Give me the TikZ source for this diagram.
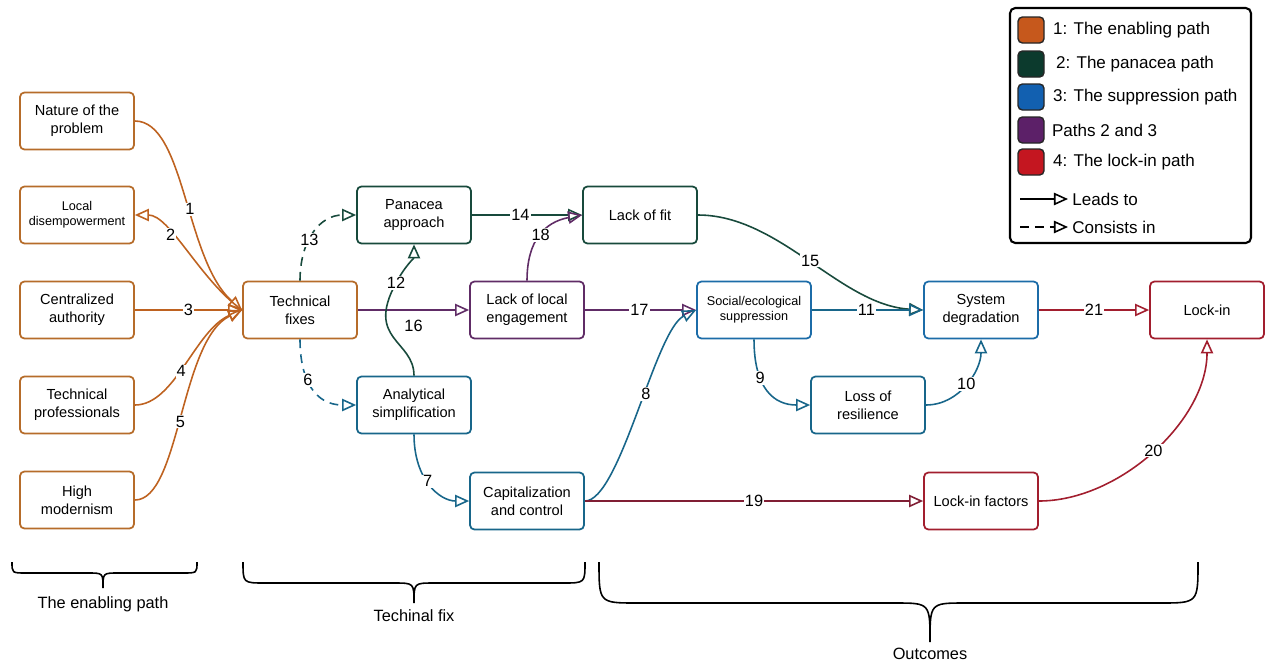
\documentclass[tikz,border=0pt]{standalone}
\usepackage{fontspec}
\setmainfont{Liberation Sans}
\usetikzlibrary{arrows.meta,positioning}

\definecolor{enbox}{RGB}{182,108,42}
\definecolor{enline}{RGB}{190,98,32}
\definecolor{panline}{RGB}{24,74,60}
\definecolor{supline}{RGB}{28,108,168}
\definecolor{tealline}{RGB}{24,102,138}
\definecolor{purline}{RGB}{96,44,102}
\definecolor{lockline}{RGB}{162,30,46}
\definecolor{capline}{RGB}{128,30,52}
\definecolor{swA}{RGB}{198,88,28}
\definecolor{swB}{RGB}{12,58,45}
\definecolor{swC}{RGB}{18,96,176}
\definecolor{swD}{RGB}{92,32,104}
\definecolor{swE}{RGB}{196,22,32}

\begin{document}
\begin{tikzpicture}[x=0.02cm, y=-0.02cm,
  box/.style={draw, rounded corners=2.5pt, line width=1pt, fill=white,
    minimum width=2.28cm, minimum height=1.14cm, align=center, inner sep=1pt,
    font=\fontsize{8.3}{10.2}\selectfont},
  tiny/.style={font=\fontsize{7.2}{8.4}\selectfont},
  num/.style={fill=white, text=black, inner sep=0.6pt, font=\fontsize{9.3}{11}\selectfont},
  leads/.style={line width=0.9pt, -{Triangle[open, length=8pt, width=7pt]}},
  consists/.style={leads, dash pattern=on 5pt off 3.5pt},
  swatch/.style={draw=black!85, line width=0.8pt, rounded corners=2.5pt,
    minimum size=0.52cm, inner sep=0pt},
  legtext/.style={font=\fontsize{9.7}{11}\selectfont, anchor=west, inner sep=0pt},
  bracetext/.style={font=\fontsize{9.3}{11}\selectfont}]
\useasboundingbox (0,0) rectangle (1266,663);

% boxes
\node[box, draw=enbox] (nature) at (77,121) {Nature of the\\problem};
\node[box, draw=enbox, tiny] (local) at (77,215) {Local\\disempowerment};
\node[box, draw=enbox] (central) at (77,310) {Centralized\\authority};
\node[box, draw=enbox] (profs) at (77,405) {Technical\\professionals};
\node[box, draw=enbox] (modern) at (77,500) {High\\modernism};
\node[box, draw=enbox] (fixes) at (300,310) {Technical\\fixes};
\node[box, draw=panline] (panacea) at (414,215) {Panacea\\approach};
\node[box, draw=tealline] (simpl) at (414,405) {Analytical\\simplification};
\node[box, draw=purline] (engage) at (527,310) {Lack of local\\engagement};
\node[box, draw=tealline] (capital) at (527,501) {Capitalization\\and control};
\node[box, draw=panline] (fit) at (640,215) {Lack of fit};
\node[box, draw=supline, tiny] (suppr) at (754,310) {Social/ecological\\suppression};
\node[box, draw=tealline] (resil) at (868,405) {Loss of\\resilience};
\node[box, draw=supline] (degrad) at (981,310) {System\\degradation};
\node[box, draw=lockline] (factors) at (981,501) {Lock-in factors};
\node[box, draw=lockline] (lockin) at (1207,310) {Lock-in};

% path 1
\draw[leads, enline] (nature.east) .. controls (185,121) and (185,260) .. (fixes.west) node[num, pos=0.55] {1};
\draw[leads, enline] (fixes.west) .. controls (200,280) and (170,215) .. (local.east) node[num, pos=0.65] {2};
\draw[leads, enline] (central.east) -- (fixes.west) node[num, pos=0.5] {3};
\draw[leads, enline] (profs.east) .. controls (175,405) and (195,330) .. (fixes.west) node[num, pos=0.45] {4};
\draw[leads, enline] (modern.east) .. controls (180,500) and (180,340) .. (fixes.west) node[num, pos=0.48] {5};

% path 2
\draw[consists, panline] (fixes.north) .. controls (300,240) and (320,215) .. (panacea.west) node[num, pos=0.4] {13};
\draw[leads, purline] (fixes.east) -- (engage.west) node[pos=0.5, below=2pt, font=\fontsize{9.3}{11}\selectfont, text=black] {16};
\draw[leads, panline] (simpl.north) .. controls (414,340) and (365,340) .. (396,283) node[num] {12}
  .. controls (405,266) and (414,258) .. (panacea.south);
\draw[leads, panline] (panacea.east) -- (fit.west) node[num, pos=0.44] {14};
\draw[leads, purline] (engage.north) .. controls (527,240) and (545,222) .. (fit.west) node[num, pos=0.5] {18};
\draw[leads, purline] (engage.east) -- (suppr.west) node[num, pos=0.49] {17};
\draw[leads, panline] (fit.east) .. controls (780,215) and (840,305) .. (degrad.west) node[num, pos=0.5] {15};

% path 3
\draw[consists, tealline] (fixes.south) .. controls (300,380) and (315,405) .. (simpl.west) node[num, pos=0.4] {6};
\draw[leads, tealline] (simpl.south) .. controls (414,480) and (440,501) .. (capital.west) node[num, pos=0.45] {7};
\draw[leads, tealline] (capital.east) .. controls (620,501) and (655,330) .. (suppr.west) node[num, pos=0.57] {8};
\draw[leads, tealline] (suppr.south) .. controls (754,390) and (775,405) .. (resil.west) node[num, pos=0.32] {9};
\draw[leads, tealline] (resil.east) .. controls (960,405) and (981,370) .. (degrad.south) node[num, pos=0.5] {10};
\draw[leads, tealline] (suppr.east) -- (degrad.west) node[num, pos=0.49] {11};

% path 4
\draw[leads, capline] (capital.east) -- (factors.west) node[num, pos=0.5] {19};
\draw[leads, lockline] (factors.east) .. controls (1120,501) and (1207,420) .. (lockin.south) node[num, pos=0.5] {20};
\draw[leads, lockline] (degrad.east) -- (lockin.west) node[num, pos=0.5] {21};

% legend
\draw[rounded corners=3pt, line width=1.2pt] (1010,8) rectangle (1251,243);
\node[swatch, fill=swA] (swa) at (1031,30) {};
\node[swatch, fill=swB] (swb) at (1031,64) {};
\node[swatch, fill=swC] (swc) at (1031,97) {};
\node[swatch, fill=swD] (swd) at (1031,130) {};
\node[swatch, fill=swE] (swe) at (1031,162) {};
\node[legtext, right=0.16cm of swa] {1: The enabling path};
\node[legtext, right=0.22cm of swb] {2: The panacea path};
\node[legtext, right=0.16cm of swc] {3: The suppression path};
\node[legtext, right=0.14cm of swd] {Paths 2 and 3};
\node[legtext, right=0.16cm of swe] {4: The lock-in path};
\coordinate (leadA) at (1020,199);
\coordinate (leadB) at (1068,199);
\coordinate (consA) at (1020,227);
\coordinate (consB) at (1068,227);
\draw[leads, black] (leadA) -- (leadB);
\draw[consists, black] (consA) -- (consB);
\node[legtext, right=0.08cm of leadB] {Leads to};
\node[legtext, right=0.08cm of consB] {Consists in};

% braces
\draw[line width=0.9pt] (12,562) .. controls (12,573) .. (26,573) -- (88,573)
  .. controls (103,573) .. (103,588) .. controls (103,573) .. (118,573) -- (183,573)
  .. controls (197,573) .. (197,562);
\node[bracetext] (enabling) at (103,604) {The enabling path};
\draw[line width=0.9pt] (243,562) .. controls (243,583) .. (265,583) -- (394,583)
  .. controls (414,583) .. (414,603) .. controls (414,583) .. (434,583) -- (563,583)
  .. controls (585,583) .. (585,562);
\node[bracetext] (techfix) at (414,616) {Techinal fix};
\draw[line width=0.9pt] (599,562) .. controls (599,603) .. (637,603) -- (895,603)
  .. controls (930,603) .. (930,642) .. controls (930,603) .. (965,603) -- (1160,603)
  .. controls (1198,603) .. (1198,562);
\node[bracetext] (outcomes) at (930,654) {Outcomes};
\end{tikzpicture}
\end{document}
